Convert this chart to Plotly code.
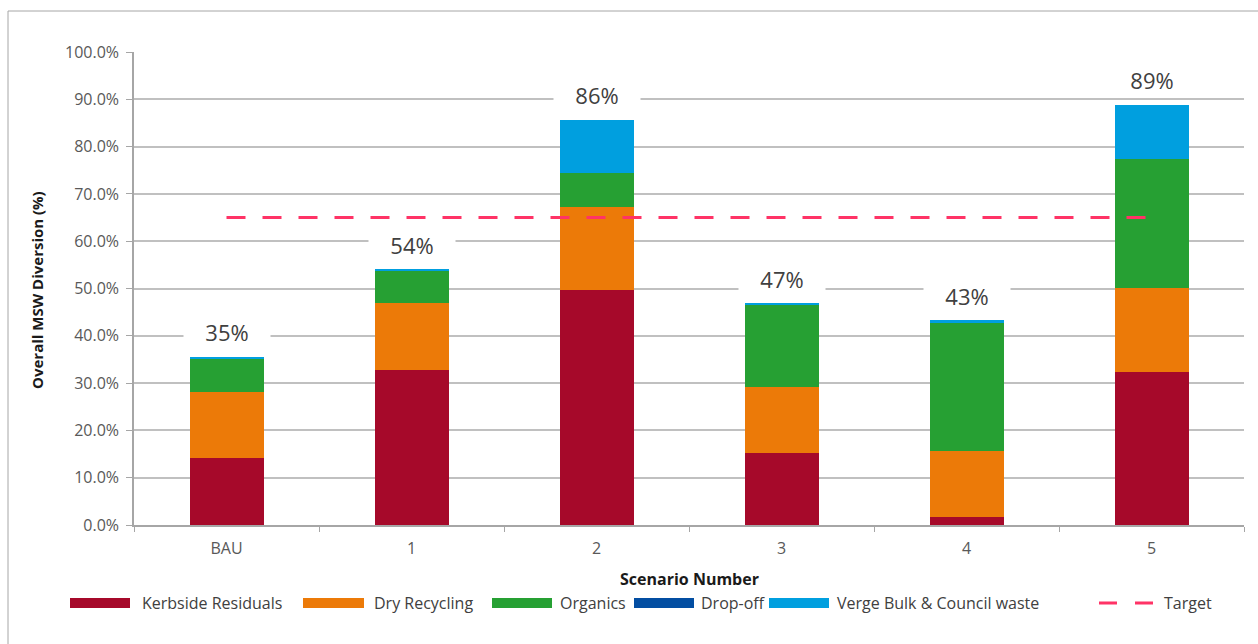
import plotly.graph_objects as go

categories = ["BAU", "1", "2", "3", "4", "5"]
kerbside = [14.2, 32.8, 49.7, 15.2, 1.7, 32.3]
dry_recycling = [14.0, 14.1, 17.5, 14.0, 13.9, 17.8]
organics = [7.0, 6.8, 7.2, 17.4, 27.3, 27.3]
drop_off = [0.0, 0.0, 0.0, 0.0, 0.0, 0.0]
verge = [0.3, 0.4, 11.3, 0.3, 0.4, 11.4]
target = [65, 65]
target_x = ["BAU", "5"]
total_labels = ["35%", "54%", "86%", "47%", "43%", "89%"]

series = [
    ("Kerbside Residuals", kerbside, "#A6092A"),
    ("Dry Recycling", dry_recycling, "#EC7A08"),
    ("Organics", organics, "#26A033"),
    ("Drop-off", drop_off, "#034EA2"),
    ("Verge Bulk & Council waste", verge, "#009FDF"),
]
target_color = "#FF3366"

W, H = 1258, 644
L, R, T, B = 134, 1244, 52, 525


def px(x):
    return (x - L) / (R - L)


def py(y):
    return (B - y) / (B - T)


FONT = "Open Sans, Noto Sans, DejaVu Sans, sans-serif"

fig = go.Figure()
for name, vals, col in series:
    fig.add_trace(go.Bar(x=categories, y=vals, name=name, marker=dict(color=col, line=dict(width=0)),
                         showlegend=False))

fig.add_trace(go.Scatter(x=target_x, y=target, mode="lines", name="Target", showlegend=False,
                         line=dict(color=target_color, width=3, dash="19px,17px")))

annotations = []
totals = [k + d + o + p + v for k, d, o, p, v in zip(kerbside, dry_recycling, organics, drop_off, verge)]
for c, t, lab in zip(categories, totals, total_labels):
    annotations.append(dict(x=c, y=t + 5.2, xref="x", yref="y", text=lab, showarrow=False,
                            xanchor="center", yanchor="middle",
                            font=dict(size=22, color="#404040", family=FONT),
                            bgcolor="white", width=86, height=26, borderpad=0))

# axis titles
annotations.append(dict(x=px(37), y=py(290), xref="paper", yref="paper", text="<b>Overall MSW Diversion (%)</b>",
                        textangle=-90, showarrow=False, xanchor="center", yanchor="middle",
                        font=dict(size=15, color="#1a1a1a", family=FONT)))
annotations.append(dict(x=px(689), y=py(579), xref="paper", yref="paper", text="<b>Scenario Number</b>",
                        showarrow=False, xanchor="center", yanchor="middle",
                        font=dict(size=16, color="#1a1a1a", family=FONT)))

# custom legend
shapes = []
leg_y = 603
legend_items = [
    ("Kerbside Residuals", series[0][2], 70, 130, 140),
    ("Dry Recycling", series[1][2], 303, 364, 372),
    ("Organics", series[2][2], 492, 552, 558),
    ("Drop-off", series[3][2], 634, 694, 699),
    ("Verge Bulk & Council waste", series[4][2], 769, 829, 835),
]
for name, col, x0, x1, tx in legend_items:
    shapes.append(dict(type="rect", xref="paper", yref="paper", x0=px(x0), x1=px(x1),
                       y0=py(leg_y + 5), y1=py(leg_y - 5), fillcolor=col, line=dict(width=0)))
    annotations.append(dict(x=px(tx), y=py(leg_y), xref="paper", yref="paper", text=name, showarrow=False,
                            xanchor="left", yanchor="middle",
                            font=dict(size=16, color="#404040", family=FONT)))
# target legend
shapes.append(dict(type="line", xref="paper", yref="paper", x0=px(1099), x1=px(1154), y0=py(leg_y), y1=py(leg_y),
                   line=dict(color=target_color, width=3, dash="18px,18px")))
annotations.append(dict(x=px(1162), y=py(leg_y), xref="paper", yref="paper", text="Target", showarrow=False,
                        xanchor="left", yanchor="middle",
                        font=dict(size=16, color="#404040", family=FONT)))

# outer border
shapes.append(dict(type="rect", xref="paper", yref="paper", x0=px(8), x1=px(1270), y0=py(660), y1=py(11),
                   line=dict(color="#A6A6A6", width=1), fillcolor="rgba(0,0,0,0)", layer="below"))

fig.update_layout(
    width=W, height=H,
    margin=dict(l=L, r=W - R, t=T, b=H - B, pad=0),
    barmode="stack", bargap=0.6,
    plot_bgcolor="white", paper_bgcolor="white",
    showlegend=False,
    font=dict(family=FONT, color="#595959", size=15),
    annotations=annotations, shapes=shapes,
    xaxis=dict(type="category", showgrid=False, showline=True, linecolor="#A6A6A6", linewidth=1.5,
               ticks="outside", tickson="boundaries", ticklen=5, tickcolor="#A6A6A6",
               tickfont=dict(size=16, color="#595959"), ticklabelstandoff=8),
    yaxis=dict(range=[0, 100], dtick=10, tickformat=".1f", ticksuffix="%", showgrid=True,
               gridcolor="#C0C0C0", gridwidth=1.5, showline=True, linecolor="#A6A6A6", linewidth=1.5,
               ticks="outside", ticklen=6, tickcolor="#A6A6A6", tickfont=dict(size=16, color="#595959"),
               ticklabelstandoff=4, zeroline=False),
)

fig.write_html("out.html")
